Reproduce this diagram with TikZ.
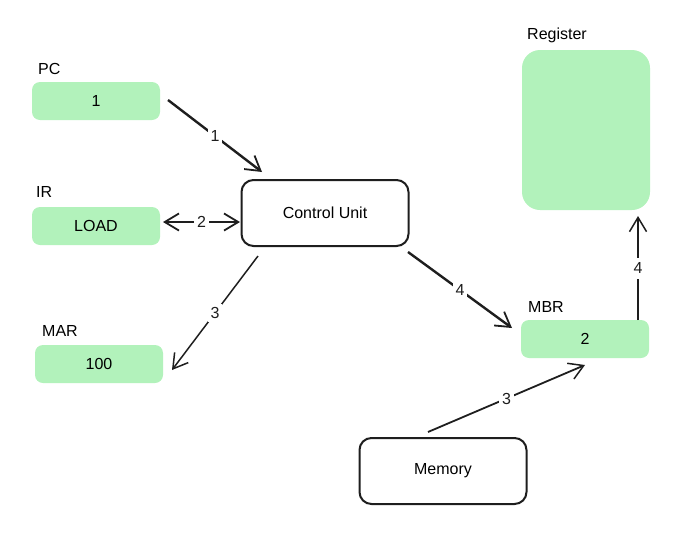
\documentclass[tikz,border=0pt]{standalone}
\usepackage{fontspec}
\setmainfont{Liberation Sans}
\usepackage{xcolor}
\usepackage{tikz}
\usetikzlibrary{arrows.meta,positioning}

\definecolor{regfill}{HTML}{B2F2BB}
\definecolor{inkline}{HTML}{1E1E1E}

\begin{document}
\begin{tikzpicture}[
  x=1pt, y=-1pt,
  font=\fontsize{16}{18}\selectfont,
  reg/.style={fill=regfill, rounded corners=8pt, minimum width=128pt, minimum height=38pt, inner sep=0pt},
  unit/.style={draw=inkline, line width=2pt, rounded corners=12pt, minimum width=167pt, minimum height=66pt, fill=white},
  title/.style={anchor=south west, inner sep=0pt},
  arrow/.style={-{Straight Barb[length=5mm, width=6mm, line width=1.8pt]}, line width=2.4pt, inkline},
  thinarrow/.style={-{Straight Barb[length=5mm, width=6mm, line width=1.5pt]}, line width=1.5pt, inkline},
  steplabel/.style={fill=white, inner sep=3pt}
]
\useasboundingbox (0,0) rectangle (680,541);

% registers
\node[reg] (pc) at (96,101) {1};
\node[reg] (ir) at (96,226) {LOAD};
\node[reg] (mar) at (99,364) {100};
\node[reg] (mbr) at (585,339) {2};
\node[reg, minimum height=160pt, rounded corners=18pt] (register) at (586,130) {};

\node[title] (pclabel) at (38,75) {PC};
\node[title] (irlabel) at (36,198) {IR};
\node[title] (marlabel) at (42,337) {MAR};
\node[title] (mbrlabel) at (528,313) {MBR};
\node[title] (reglabel) at (527,43) {Register};

% units
\node[unit] (cu) at (325,213) {Control Unit};
\node[unit] (mem) at (443,471) {Memory};

% data flow
\coordinate (pcout) at (168,100);
\coordinate (cuin) at (262,172);
\draw[arrow] (pcout) -- node[steplabel] {1} (cuin);

\coordinate (irout) at (163,222);
\coordinate (culeft) at (240,222);
\draw[arrow, {Straight Barb[length=5mm, width=6mm, line width=1.8pt]}-{Straight Barb[length=5mm, width=6mm, line width=1.8pt]}] (irout) -- node[steplabel] {2} (culeft);

\coordinate (cubl) at (258,256);
\coordinate (marin) at (172,370);
\draw[thinarrow] (cubl) -- node[steplabel] {3} (marin);

\coordinate (cubr) at (408,252);
\coordinate (mbrin) at (512,328);
\draw[arrow] (cubr) -- node[steplabel] {4} (mbrin);

\coordinate (memout) at (428,432);
\coordinate (mbrbot) at (585,365);
\draw[thinarrow, line width=1.8pt] (memout) -- node[steplabel] {3} (mbrbot);

\coordinate (mbrtop) at (638,320);
\coordinate (regin) at (638,216);
\draw[thinarrow, line width=1.8pt] (mbrtop) -- node[steplabel, inner sep=5pt] {4} (regin);
\end{tikzpicture}
\end{document}
